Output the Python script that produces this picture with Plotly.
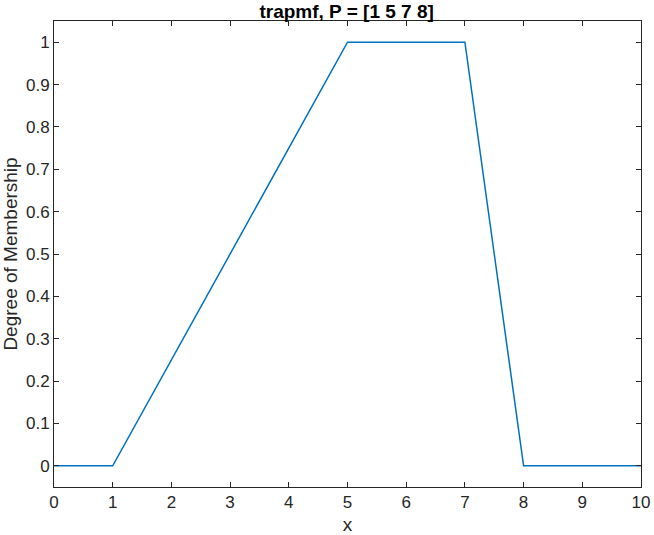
import plotly.graph_objects as go

x_vals = [0, 1, 5, 7, 8, 10]
y_vals = [0, 0, 1, 1, 0, 0]
x_ticks = [0, 1, 2, 3, 4, 5, 6, 7, 8, 9, 10]
y_ticks = [0, 0.1, 0.2, 0.3, 0.4, 0.5, 0.6, 0.7, 0.8, 0.9, 1]
y_tick_text = ["0", "0.1", "0.2", "0.3", "0.4", "0.5", "0.6", "0.7", "0.8", "0.9", "1"]

axis_color = "#262626"
font_family = "Liberation Sans, Arial, sans-serif"

fig = go.Figure()
fig.add_trace(go.Scatter(x=x_vals, y=y_vals, mode="lines",
                         line=dict(color="#0072BD", width=1.5), showlegend=False))

fig.update_layout(
    width=654, height=535,
    margin=dict(l=54, r=13, t=21, b=48),
    paper_bgcolor="white", plot_bgcolor="white",
    font=dict(family=font_family, size=17, color=axis_color),
    title=dict(text="<b>trapmf, P = [1 5 7 8]</b>", x=0.53, xanchor="center",
               yref="container", y=0.979, yanchor="middle",
               font=dict(family=font_family, size=19, color="#000000")),
)
fig.update_xaxes(range=[0, 10], tickvals=x_ticks, ticks="inside", ticklen=5,
                 tickcolor=axis_color, showline=True, linecolor=axis_color, linewidth=1,
                 mirror="ticks", showgrid=False, zeroline=False, automargin=False,
                 title=dict(text="x", standoff=12, font=dict(size=19)),
                 tickfont=dict(size=17, color=axis_color))
fig.update_yaxes(range=[-0.05, 1.05], tickvals=y_ticks, ticktext=y_tick_text,
                 ticks="inside", ticklen=5, tickcolor=axis_color,
                 showline=True, linecolor=axis_color, linewidth=1,
                 mirror="ticks", showgrid=False, zeroline=False, automargin=False,
                 title=dict(text="Degree of Membership", standoff=3, font=dict(size=19)),
                 tickfont=dict(size=17, color=axis_color))

fig.write_html("out.html", config={"displayModeBar": False},
               post_script="document.body.style.margin='0px';document.body.style.overflow='hidden';")
